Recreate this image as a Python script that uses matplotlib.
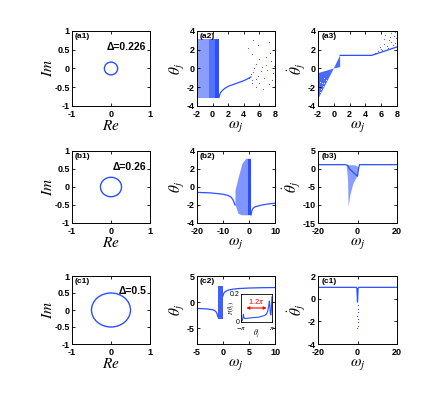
import matplotlib
matplotlib.use('Agg')
import matplotlib.pyplot as plt
from matplotlib.patches import Circle
from matplotlib.ticker import FormatStrFormatter

plt.rcParams['font.family'] = ['Liberation Sans', 'DejaVu Sans']
plt.rcParams['mathtext.fontset'] = 'stix'
plt.rcParams['axes.unicode_minus'] = True

BLUE = '#2a4fff'

# circle radii and Delta labels (column 1)
radii = [0.17, 0.27, 0.5]
deltas = ['Δ=0.226', 'Δ=0.26', 'Δ=0.5']

# (a2) dense band and curves
a2_band_x = [-2.0, -0.5, 0.3, 0.85]
a2_band_alpha = [0.55, 0.8, 1.0]
a2_curve_x = [0.8, 0.9, 1.0, 1.3, 1.6, 2.0, 2.5, 3.0, 3.5, 4.0, 4.5, 4.9]
a2_curve_y = [-3.1, -2.85, -2.6, -2.3, -2.1, -1.9, -1.75, -1.6, -1.45, -1.3, -1.1, -0.9]
a2_pts_x = [5.2, 7.2, 5.8, 4.6, 5.0, 6.0, 6.8, 7.5, 5.5, 6.3, 7.0, 5.2, 5.8, 6.6, 7.8, 5.0,
            6.0, 7.2, 5.5, 4.9, 5.3, 6.9, 7.6, 6.2, 5.6, 4.7, 7.9, 6.5, 5.1, 7.4]
a2_pts_y = [3.0, 2.8, 2.5, 2.2, 1.5, 1.0, 1.2, 0.8, 0.5, 0.2, -0.2, -0.4, -0.8, -1.0, -0.5, -1.2,
            -1.5, -1.7, -2.0, -0.6, 0.0, 0.4, -1.2, -0.3, -1.1, -1.0, 0.3, -2.2, -1.6, 1.7]

# (a3) fan and plateau
a3_fan_x = [-2.0, 0.0, 0.8, 0.8, 0.0, -2.0]
a3_fan_y = [-0.5, 0.0, 1.4, 0.15, 0.0, -3.3]
a3_line_x = [0.8, 4.8, 8.0]
a3_line_y = [1.4, 1.4, 2.3]
a3_pts_x = [5.2, 5.6, 6.0, 6.3, 6.7, 7.0, 7.3, 7.6, 7.9, 5.8, 6.5, 7.2, 7.8, 6.1, 6.9, 7.5, 5.4, 7.7, 6.4, 7.1]
a3_pts_y = [1.7, 1.9, 2.1, 2.6, 2.4, 3.0, 2.8, 3.5, 3.2, 2.3, 3.6, 3.8, 2.7, 2.0, 2.2, 2.5, 1.6, 3.9, 3.1, 3.4]
a3_cloud_x = [-2.0, -1.8, -1.6, -1.4, -1.9, -1.7, -1.5, -1.2, -1.0, -1.3]
a3_cloud_y = [-2.8, -2.5, -2.2, -1.9, -2.0, -1.4, -1.6, -1.5, -1.2, -1.0]

# (b2)
b2_left_x = [-20, -15, -10, -8, -7, -6.3, -5.8, -5.4]
b2_left_y = [-0.6, -0.65, -0.8, -0.95, -1.1, -1.35, -1.65, -2.0]
b2_cloud_x = [-5.2, -4.0, -2.5, -1.0, -0.3, 0.8, 0.8, -0.3, -1.0, -2.5, -4.0, -5.2]
b2_cloud_y = [-2.0, -3.0, -3.14, -3.14, -3.14, -3.14, 3.14, 3.14, 3.14, 2.6, 1.0, -0.4]
b2_solid_x = [-0.4, 0.8]
b2_right_x = [0.8, 1.0, 1.5, 2.0, 3.0, 5.0, 7.0, 10.0]
b2_right_y = [-3.1, -2.7, -2.4, -2.25, -2.15, -2.0, -1.9, -1.8]

# (b3)
b3_line_x = [-20, -6, -5, -4, -2, 0, 0.5, 1, 20]
b3_line_y = [1.2, 1.2, 1.0, 0.0, -1.0, -2.0, 0.0, 1.2, 1.2]
b3_cloud_x = [-5.5, -4.8, -4.5, -3.5, -2.0, 0.0, 0.5, -1.0]
b3_cloud_y = [1.1, -3.0, -10.5, -7.0, -4.0, -2.0, 0.5, 1.0]

# (c2)
c2_left_x = [-5, -4, -3, -2, -1.6, -1.3, -1.1, -1.0]
c2_left_y = [-1.2, -1.25, -1.3, -1.45, -1.6, -1.9, -2.3, -2.8]
c2_band_x = [-1.0, 0.0]
c2_right_x = [0.0, 0.1, 0.3, 0.6, 1.0, 2.0, 3.0, 5.0, 7.0, 10.0]
c2_right_y = [1.2, 1.6, 1.9, 2.1, 2.3, 2.5, 2.6, 2.7, 2.75, 2.8]

# (c2) inset P(theta)
pin_x = [-3.14, -2.9, -2.75, -2.65, -2.55, -2.3, -1.0, 0.5, 1.5, 2.0, 2.3, 2.5, 2.6,
         2.7, 2.8, 2.9, 3.0, 3.1, 3.14]
pin_y = [0.01, 0.01, 0.03, 0.055, 0.03, 0.025, 0.03, 0.035, 0.045, 0.055, 0.08, 0.12, 0.15,
         0.12, 0.06, 0.05, 0.08, 0.16, 0.18]

# (c3)
c3_line_x = [-20, -0.6, -0.3, 0.0, 0.3, 0.6, 20]
c3_line_y = [1.0, 1.0, 0.9, -0.3, 0.9, 1.0, 1.0]
c3_pts_x = [0.0, 0.0, 0.05, -0.05, 0.0, 0.0, 0.05, -0.05]
c3_pts_y = [-0.6, -0.9, -1.2, -1.5, -1.8, -2.1, -2.4, -2.6]

W, H = 440, 397
fig = plt.figure(figsize=(W / 100, H / 100), dpi=100)


def make_ax(x0, y0, x1, y1):
    return fig.add_axes([x0 / W, 1 - y1 / H, (x1 - x0) / W, (y1 - y0) / H])


def style(ax, xlim, ylim, xt, yt, xl, yl, tag):
    ax.set_xlim(xlim)
    ax.set_ylim(ylim)
    ax.set_xticks(xt)
    ax.set_yticks(yt)
    ax.xaxis.set_major_formatter(FormatStrFormatter('%g'))
    ax.yaxis.set_major_formatter(FormatStrFormatter('%g'))
    ax.tick_params(direction='in', length=2.5, width=0.6, labelsize=6.5,
                   top=True, right=True)
    ax.tick_params(axis='x', pad=3)
    ax.tick_params(axis='y', pad=1.5)
    for lbl in ax.get_xticklabels() + ax.get_yticklabels():
        lbl.set_fontweight('bold')
    for s in ax.spines.values():
        s.set_linewidth(0.7)
    ax.set_xlabel(xl, fontsize=11, labelpad=0)
    ax.set_ylabel(yl, fontsize=11, labelpad=0)
    ax.text(0.04, 0.97, tag, transform=ax.transAxes, fontsize=6, fontweight='bold',
            va='top', ha='left')


cols = [(72, 150), (197, 275), (318, 397)]
rows = [(31, 106), (151, 223), (276, 344)]

# column 1: circles
for i, (r, d, tag) in enumerate(zip(radii, deltas, ['(a1)', '(b1)', '(c1)'])):
    ax = make_ax(cols[0][0], rows[i][0], cols[0][1], rows[i][1])
    ax.add_patch(Circle((0, 0), r, fill=False, edgecolor=BLUE, lw=1.0))
    style(ax, (-1, 1), (-1, 1), [-1, 0, 1], [-1, -0.5, 0, 0.5, 1],
          '$Re$', '$Im$', tag)
    ax.text(0.95, 0.85, d, transform=ax.transAxes, fontsize=7.5, fontweight='bold',
            ha='right', va='top')

# (a2)
ax = make_ax(cols[1][0], rows[0][0], cols[1][1], rows[0][1])
for k in range(len(a2_band_alpha)):
    ax.fill_between([a2_band_x[k], a2_band_x[k + 1]], -3.14, 3.14, color=BLUE,
                    alpha=a2_band_alpha[k], lw=0)
ax.plot(a2_curve_x, a2_curve_y, color=BLUE, lw=0.9)
ax.scatter(a2_pts_x, a2_pts_y, s=0.6, color=BLUE, lw=0)
style(ax, (-2, 8), (-4, 4), [-2, 0, 2, 4, 6, 8], [-4, -2, 0, 2, 4],
      r'$\omega_j$', r'$\theta_j$', '(a2)')

# (a3)
ax = make_ax(cols[2][0], rows[0][0], cols[2][1], rows[0][1])
ax.fill(a3_fan_x, a3_fan_y, color=BLUE, alpha=0.85, lw=0)
ax.plot(a3_line_x, a3_line_y, color=BLUE, lw=0.9)
ax.scatter(a3_pts_x, a3_pts_y, s=0.6, color=BLUE, lw=0)
ax.scatter(a3_cloud_x, a3_cloud_y, s=0.6, color='white', lw=0)
style(ax, (-2, 8), (-4, 4), [-2, 0, 2, 4, 6, 8], [-4, -2, 0, 2, 4],
      r'$\omega_j$', r'$\dot{\theta}_j$', '(a3)')

# (b2)
ax = make_ax(cols[1][0], rows[1][0], cols[1][1], rows[1][1])
ax.plot(b2_left_x, b2_left_y, color=BLUE, lw=0.9)
ax.fill(b2_cloud_x, b2_cloud_y, color=BLUE, alpha=0.6, lw=0)
ax.fill_between(b2_solid_x, -3.14, 3.14, color=BLUE, lw=0)
ax.plot(b2_right_x, b2_right_y, color=BLUE, lw=0.9)
style(ax, (-20, 10), (-4, 4), [-20, -10, 0, 10], [-4, -2, 0, 2, 4],
      r'$\omega_j$', r'$\theta_j$', '(b2)')

# (b3)
ax = make_ax(cols[2][0], rows[1][0], cols[2][1], rows[1][1])
ax.fill(b3_cloud_x, b3_cloud_y, color=BLUE, alpha=0.55, lw=0)
ax.plot(b3_line_x, b3_line_y, color=BLUE, lw=0.9)
style(ax, (-20, 20), (-15, 5), [-20, 0, 20], [-15, -10, -5, 0, 5],
      r'$\omega_j$', r'$\dot{\theta}_j$', '(b3)')

# (c2)
ax = make_ax(cols[1][0], rows[2][0], cols[1][1], rows[2][1])
ax.plot(c2_left_x, c2_left_y, color=BLUE, lw=0.9)
ax.fill_between(c2_band_x, -3.14, 3.14, color=BLUE, lw=0, alpha=0.9)
ax.plot(c2_right_x, c2_right_y, color=BLUE, lw=0.9)
style(ax, (-5, 10), (-8, 5), [-5, 0, 5, 10], [-5, 0, 5],
      r'$\omega_j$', r'$\theta_j$', '(c2)')

axi = make_ax(241, 294, 272, 322)
axi.plot(pin_x, pin_y, color=BLUE, lw=0.8)
axi.set_xlim(-3.14, 3.14)
axi.set_ylim(0, 0.2)
axi.set_xticks([-3.14, 3.14])
axi.set_xticklabels([r'$-\pi$', r'$\pi$'])
axi.set_yticks([0, 0.2])
axi.set_yticklabels(['0', '0.2'])
axi.tick_params(direction='in', length=1.5, width=0.5, labelsize=5)
axi.tick_params(axis='x', pad=2.5)
axi.tick_params(axis='y', pad=1)
axi.set_xlabel(r'$\theta_j$', fontsize=5.5, labelpad=-4)
axi.set_ylabel(r'$P(\theta_j)$', fontsize=4.5, labelpad=-5)
for s in axi.spines.values():
    s.set_linewidth(0.6)
axi.annotate('', xy=(2.6, 0.1), xytext=(-2.6, 0.1),
             arrowprops=dict(arrowstyle='<|-|>', color='red', lw=0.8,
                             mutation_scale=4))
axi.text(0.0, 0.115, r'1.2$\pi$', color='red', fontsize=5.5, ha='center', va='bottom')

# (c3) labelled (c1) in the original
ax = make_ax(cols[2][0], rows[2][0], cols[2][1], rows[2][1])
ax.plot(c3_line_x, c3_line_y, color=BLUE, lw=0.9)
ax.scatter(c3_pts_x, c3_pts_y, s=0.8, color=BLUE, lw=0)
style(ax, (-20, 20), (-4, 2), [-20, 0, 20], [-4, -2, 0, 2],
      r'$\omega_j$', r'$\dot{\theta}_j$', '(c1)')

fig.savefig('out.png', dpi=100)
